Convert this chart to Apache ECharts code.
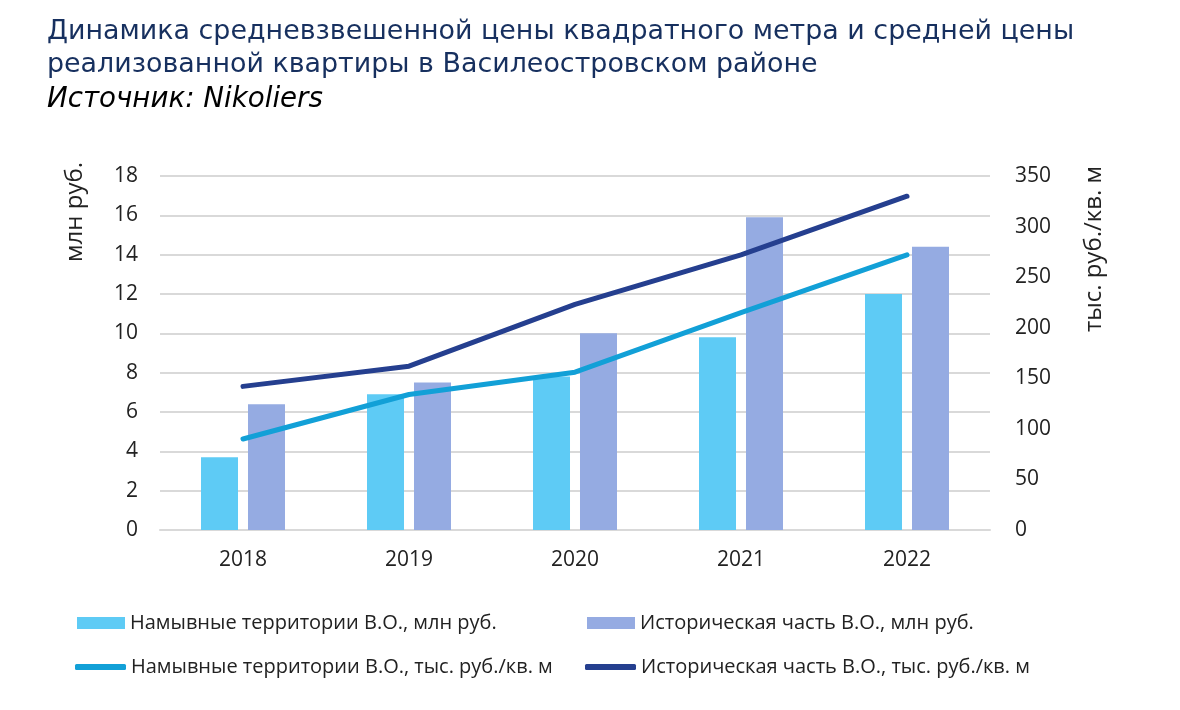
<!DOCTYPE html>
<html><head><meta charset="utf-8">
<script src="https://cdn.jsdelivr.net/npm/echarts@6/dist/echarts.min.js"></script>
<style>html,body{margin:0;padding:0;background:#fff}#c{width:1180px;height:710px}</style>
</head><body><div id="c"></div>
<script>
const categories = ['2018','2019','2020','2021','2022'];
const namyvPrice = [3.7, 6.9, 7.8, 9.8, 12.0];
const histPrice = [6.4, 7.5, 10.0, 15.9, 14.4];
const namyvSqm = [90, 134, 156, 215, 272];
const histSqm = [142, 162, 223, 272, 330];
const leftTicks = {min:0, max:18, interval:2};
const rightTicks = {min:0, max:350, interval:50};
const names = ['Намывные территории В.О., млн руб.','Историческая часть В.О., млн руб.','Намывные территории В.О., тыс. руб./кв. м','Историческая часть В.О., тыс. руб./кв. м'];
const FONT = 'Open Sans';
const chart = echarts.init(document.getElementById('c'));
const legendBase = {orient:'horizontal', padding:0, itemGap:0, textStyle:{fontFamily:FONT,fontSize:20,color:'#222'}, selectedMode:false};
const titleStyle = {fontFamily:'DejaVu Sans',fontSize:26.9,fill:'#17305f'};
chart.setOption({
  animation:false,
  graphic:[
    {type:'text',left:47,top:19,style:Object.assign({text:'Динамика средневзвешенной цены квадратного метра и средней цены'},titleStyle)},
    {type:'text',left:47,top:52,style:Object.assign({text:'реализованной квартиры в Василеостровском районе'},titleStyle)},
    {type:'text',left:47,top:86,style:{text:'Источник: Nikoliers',fontFamily:'DejaVu Sans',fontStyle:'italic',fontSize:27.7,fill:'#000'}},
    {type:'text',x:75,y:212,rotation:Math.PI/2,style:{text:'млн руб.',fontFamily:FONT,fontSize:24,fill:'#222',align:'center',verticalAlign:'middle'}},
    {type:'text',x:1094,y:249,rotation:Math.PI/2,style:{text:'тыс. руб./кв. м',fontFamily:FONT,fontSize:24,fill:'#222',align:'center',verticalAlign:'middle'}}
  ],
  grid:{left:160,right:190,top:176,bottom:180},
  legend:[
    Object.assign({},legendBase,{left:77,top:613,itemWidth:48,itemHeight:12,data:[{name:names[0],icon:'rect'}]}),
    Object.assign({},legendBase,{left:587,top:613,itemWidth:48,itemHeight:12,data:[{name:names[1],icon:'rect'}]}),
    Object.assign({},legendBase,{left:75,top:657,itemWidth:51,itemHeight:6,data:[{name:names[2],icon:'roundRect'}]}),
    Object.assign({},legendBase,{left:585,top:657,itemWidth:51,itemHeight:6,data:[{name:names[3],icon:'roundRect'}]})
  ],
  xAxis:{type:'category',data:categories,axisTick:{show:false},axisLine:{lineStyle:{color:'#d9d9d9',width:2}},
    axisLabel:{fontSize:21,color:'#222',margin:20,fontFamily:FONT}},
  yAxis:[
    {type:'value',min:leftTicks.min,max:leftTicks.max,interval:leftTicks.interval,axisLabel:{fontSize:21,color:'#222',margin:22,fontFamily:FONT},
      splitLine:{lineStyle:{color:'#d9d9d9',width:2}},axisLine:{show:false},axisTick:{show:false}},
    {type:'value',min:rightTicks.min,max:rightTicks.max,interval:rightTicks.interval,position:'right',axisLabel:{fontSize:21,color:'#222',margin:25,fontFamily:FONT},
      splitLine:{show:false},axisLine:{show:false},axisTick:{show:false}}
  ],
  series:[
    {name:names[0],type:'bar',data:namyvPrice,barWidth:37,barGap:'27%',itemStyle:{color:'#5ecbf5'}},
    {name:names[1],type:'bar',data:histPrice,barWidth:37,barGap:'27%',itemStyle:{color:'#95abe2'}},
    {name:names[2],type:'line',yAxisIndex:1,data:namyvSqm,symbol:'none',lineStyle:{color:'#12a0d7',width:5,cap:'round'},itemStyle:{color:'#12a0d7'}},
    {name:names[3],type:'line',yAxisIndex:1,data:histSqm,symbol:'none',lineStyle:{color:'#253f8f',width:5,cap:'round'},itemStyle:{color:'#253f8f'}}
  ]
});
</script></body></html>
